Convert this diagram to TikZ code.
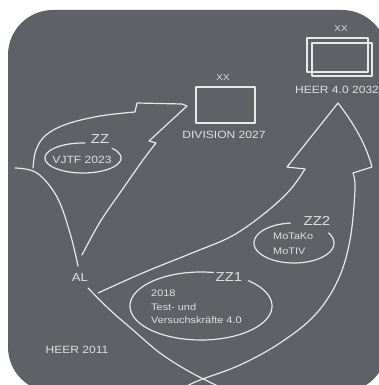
\documentclass[tikz,border=0pt]{standalone}
\usepackage{fontspec}
\setmainfont{Liberation Sans}[FakeStretch=1.15]
\definecolor{bg}{RGB}{94,97,101}
\definecolor{ln}{RGB}{232,232,232}
\definecolor{tx}{RGB}{224,224,224}
\begin{document}
\begin{tikzpicture}[x=1pt,y=-1pt,line cap=round,line join=round,
  sk/.style={draw=ln,line width=1.2pt},
  lbl/.style={text=tx,inner sep=0pt,font=\fontsize{10.5}{12}\selectfont},
  zz/.style={text=tx,inner sep=0pt,font=\fontsize{13}{14}\selectfont},
  xx/.style={text=tx,inner sep=0pt,font=\fontsize{8.5}{10}\selectfont},
  inner/.style={text=tx,inner sep=0pt,anchor=west,font=\fontsize{9.5}{11}\selectfont}]
\useasboundingbox (0,0) rectangle (379,385);
\fill[white] (0,0) rectangle (379,385);
\begin{scope}
  \clip (0,0) rectangle (379,385);
  \fill[bg,rounded corners=45pt] (8,10) rectangle (387,392);
\end{scope}

% DIVISION 2027
\node[xx] (xdiv) at (223,78) {XX};
\draw[sk] (196,87) rectangle (255,123);
\coordinate (divbox) at (225,105);
\node[lbl] (div) at (224,135) {DIVISION 2027};

% HEER 4.0 2032
\node[xx] (xheer) at (341,29) {XX};
\draw[sk] (307,38) rectangle (368,72);
\draw[sk] (312,43) rectangle (372,76);
\node[lbl] (heer40) at (337,90) {HEER 4.0 2032};

% AL and HEER 2011
\node[zz,font=\fontsize{11.5}{13}\selectfont] (al) at (80,278) {AL};
\node[lbl] (heer11) at (77,350) {HEER 2011};

% small arrow to DIVISION 2027
\draw[sk] plot[smooth,tension=0.6] coordinates {(33,168) (36,150) (46,135) (67,124) (100,116) (135,112)}
  -- (137,103) -- (182,104) -- (187,106) -- (149,141) -- (156,143)
  -- plot[smooth,tension=0.6] coordinates {(156,143) (143,160) (122,190) (100,222) (82,255)};
\draw[sk] plot[smooth,tension=0.6] coordinates {(15,168) (37,173) (57,197) (70,233) (78,266)};

% big arrow to HEER 4.0 2032
\draw[sk] plot[smooth,tension=0.6] coordinates {(98,293) (145,272) (192,253) (232,236) (265,213) (290,190) (305,169)}
  -- (287,167) -- (338,103) .. controls (355,125) and (366,145) .. (372,167) -- (353,173)
  -- plot[smooth,tension=0.6] coordinates {(353,173) (355,190) (350,240) (338,280) (315,315) (280,343) (240,365) (200,380) (185,387)};
\draw[sk] plot[smooth,tension=0.6] coordinates {(88,288) (110,310) (133,330) (160,353) (190,372) (222,388)};

% ZZ / VJTF 2023
\draw[sk] plot[domain=87:400,samples=90] ({83+38*cos(\x)},{158-15*sin(\x)});
\node[zz] (zz) at (100,139) {ZZ};
\node[lbl] (vjtf) at (82,160) {VJTF 2023};

% ZZ1
\draw[sk] plot[domain=80:408,samples=120] ({201+71*cos(\x)},{306-34*sin(\x)});
\node[zz] (zz1) at (229,277) {ZZ1};
\node[inner] (t1) at (151,293) {2018};
\node[inner] (t2) at (151,307) {Test- und};
\node[inner] (t3) at (151,320) {Versuchskräfte 4.0};

% ZZ2
\draw[sk] plot[domain=95:390,samples=90] ({294+40*cos(\x)},{243-20*sin(\x)});
\node[zz] (zz2) at (317,221) {ZZ2};
\node[inner] (m1) at (273,236) {MoTaKo};
\node[inner] (m2) at (273,251) {MoTIV};
\end{tikzpicture}
\end{document}
